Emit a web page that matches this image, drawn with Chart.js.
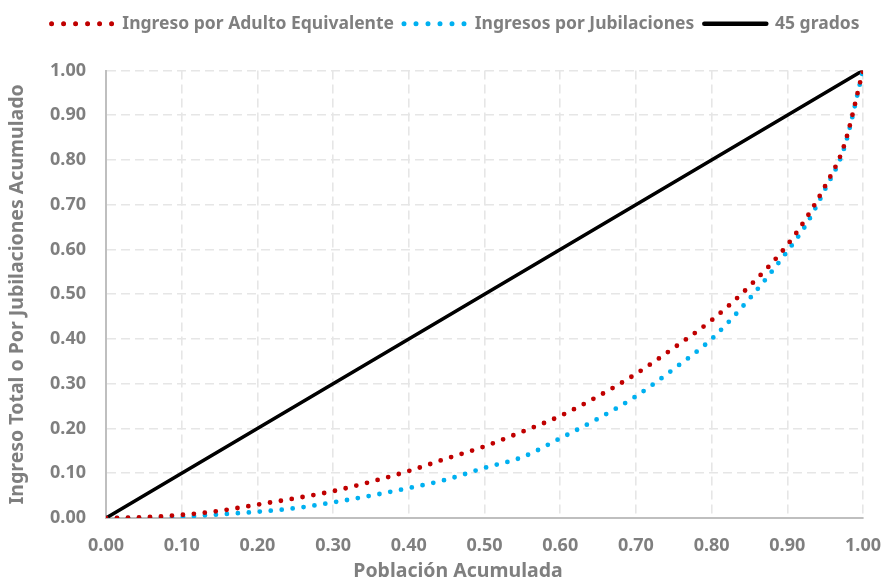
<!DOCTYPE html>
<html><head><meta charset="utf-8">
<script src="https://cdn.jsdelivr.net/npm/chart.js@4/dist/chart.umd.min.js"></script>
<style>html,body{margin:0;padding:0;background:#fff}#w{width:884px;height:581px}</style>
</head><body><div id="w"><canvas id="c"></canvas></div>
<script>
const poblacion = [0,0.05,0.1,0.15,0.2,0.25,0.3,0.35,0.4,0.45,0.5,0.55,0.6,0.65,0.7,0.75,0.8,0.85,0.9,0.925,0.95,0.975,1];
const ingresoAdultoEq = [0,0.002,0.007,0.016,0.03,0.044,0.06,0.081,0.105,0.133,0.16,0.193,0.228,0.272,0.322,0.38,0.442,0.518,0.61,0.67,0.742,0.832,1.0];
const ingresoJubilaciones = [0,0.0,0.003,0.008,0.014,0.022,0.035,0.05,0.067,0.086,0.112,0.136,0.178,0.222,0.272,0.333,0.4,0.49,0.596,0.656,0.735,0.826,1.0];
const lineaX = [0,0.1,0.2,0.3,0.4,0.5,0.6,0.7,0.8,0.9,1.0];
const lineaY = [0,0.1,0.2,0.3,0.4,0.5,0.6,0.7,0.8,0.9,1.0];
const seriesNames = ['Ingreso por Adulto Equivalente','Ingresos por Jubilaciones','45 grados'];
const xTitle = 'Población Acumulada';
const yTitle = 'Ingreso Total o Por Jubilaciones Acumulado';

const FONT = '"Noto Sans",sans-serif';
const GRAY = '#7f7f7f';
const pts = (xs, ys) => xs.map((x,i)=>({x, y: ys[i]}));

const legendGap = {
  id:'legendGap',
  afterInit(chart){
    const lg = chart.legend;
    const orig = lg.fit.bind(lg);
    lg.fit = function(){ orig(); this.height += 28; };
  },
  afterLayout(chart){
    chart.legend.left += 24;
    chart.legend.right += 24;
  }
};
const xTitlePlugin = {
  id:'xTitlePlugin',
  afterDraw(chart){
    const ctx = chart.ctx;
    ctx.save();
    ctx.font = 'bold 19.5px ' + FONT;
    ctx.fillStyle = GRAY;
    ctx.textAlign = 'center';
    ctx.textBaseline = 'middle';
    ctx.fillText(xTitle, 458, 571);
    ctx.restore();
  }
};

new Chart(document.getElementById('c'), {
  type: 'line',
  data: { datasets: [
    { label: seriesNames[0], data: pts(poblacion, ingresoAdultoEq), borderColor:'#c00000', backgroundColor:'#c00000',
      borderWidth:4.8, borderDash:[0,11], borderCapStyle:'round', pointRadius:0, cubicInterpolationMode:'monotone', fill:false },
    { label: seriesNames[1], data: pts(poblacion, ingresoJubilaciones), borderColor:'#00b0f0', backgroundColor:'#00b0f0',
      borderWidth:4.8, borderDash:[0,11], borderCapStyle:'round', pointRadius:0, cubicInterpolationMode:'monotone', fill:false },
    { label: seriesNames[2], data: pts(lineaX, lineaY), borderColor:'#000000', backgroundColor:'#000000',
      borderWidth:3.6, pointRadius:0, fill:false }
  ]},
  options: {
    responsive:true, maintainAspectRatio:false, animation:false,
    layout:{ padding:{ left:0, right:21, top:5, bottom:0 } },
    plugins:{
      tooltip:{enabled:false},
      legend:{
        position:'top', align:'center',
        labels:{
          font:{family:FONT, size:17.5, weight:'bold'}, color:GRAY,
          usePointStyle:true, pointStyleWidth:62, boxHeight:8, padding:10,
          generateLabels(chart){
            return chart.data.datasets.map((ds,i)=>({
              text: ds.label, fillStyle: ds.borderColor, strokeStyle: ds.borderColor,
              lineWidth: i===2 ? 4.5 : 5, lineDash: i===2 ? [] : [0,12], lineCap: 'round',
              pointStyle:'line', datasetIndex:i, fontColor: GRAY, hidden:false
            }));
          }
        }
      }
    },
    scales:{
      x:{ type:'linear', min:0, max:1,
        afterFit(s){ s.height = 63; s.paddingRight = 0; s.paddingLeft = 0; },
        ticks:{ stepSize:0.1, callback:v=>Number(v).toFixed(2), font:{family:FONT,size:18,weight:'bold'}, color:GRAY, padding:17, maxRotation:0 },
        grid:{ color:'#e6e6e6', lineWidth:1.6, drawTicks:false, tickLength:0 },
        border:{ display:true, color:'#bfbfbf', width:2, dash:[9,5] },
        title:{ display:false, text:xTitle }
      },
      y:{ min:0, max:1,
        afterFit(s){ s.width = 106; },
        ticks:{ stepSize:0.1, callback:v=>Number(v).toFixed(2), font:{family:FONT,size:18,weight:'bold'}, color:GRAY, padding:20 },
        grid:{ color:'#e6e6e6', lineWidth:1.6, drawTicks:false, tickLength:0 },
        border:{ display:true, color:'#bfbfbf', width:2, dash:[9,5] },
        title:{ display:true, text:yTitle, font:{family:FONT,size:19.5,weight:'bold'}, color:GRAY, padding:{top:6,bottom:0} }
      }
    }
  },
  plugins:[legendGap, xTitlePlugin]
});
</script>
</body></html>
